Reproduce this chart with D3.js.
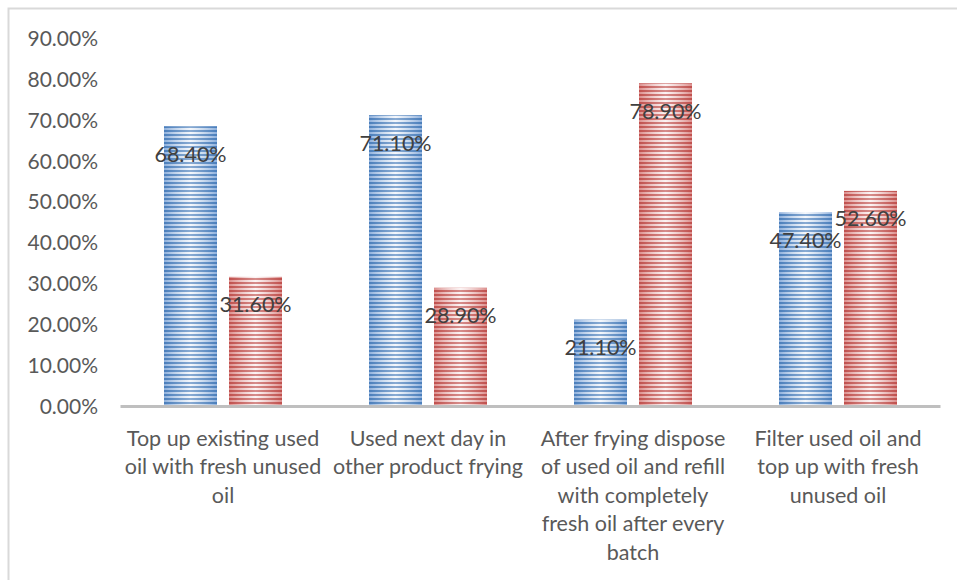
<!DOCTYPE html>
<html>
<head>
<meta charset="utf-8">
<script src="https://cdn.jsdelivr.net/npm/d3@7"></script>
<style>
  html, body { margin: 0; padding: 0; background: #fff; }
  svg { display: block; }
</style>
</head>
<body>
<svg id="chart" width="957" height="580"></svg>
<script>
// Frying-oil practice categories (each label pre-wrapped into lines)
const categories = [
  ["Top up existing used", "oil with fresh unused", "oil"],
  ["Used next day in", "other product frying"],
  ["After frying dispose", "of used oil and refill", "with completely", "fresh oil after every", "batch"],
  ["Filter used oil and", "top up with fresh", "unused oil"]
];
const seriesNames = ["Yes", "No"];
const blueValues = [0.684, 0.711, 0.211, 0.474];
const redValues = [0.316, 0.289, 0.789, 0.526];
const yTicks = [0, 0.1, 0.2, 0.3, 0.4, 0.5, 0.6, 0.7, 0.8, 0.9];

const FONT = "Lato, 'Open Sans', sans-serif";
const svg = d3.select("#chart");
const defs = svg.append("defs");

// outer chart frame (open on right and bottom edges of the canvas)
svg.append("rect")
  .attr("x", 8.5).attr("y", 8.5)
  .attr("width", 1000).attr("height", 1000)
  .attr("fill", "none").attr("stroke", "#d9d9d9").attr("stroke-width", 2);

const catIdx = categories.map((_, i) => i);
const x0 = d3.scaleBand().domain(catIdx).range([120.5, 940.5]);
const groupW = 118;
const x1 = d3.scaleBand().domain(seriesNames)
  .range([(x0.bandwidth() - groupW) / 2, (x0.bandwidth() + groupW) / 2])
  .paddingInner(12 / 65);
const y = d3.scaleLinear().domain([0, 0.9]).range([406, 38]);

// striped fills: soft horizontal gradient beneath, thin horizontal lines above
const palettes = {
  Yes: { line: "#4a7ebb", edge: "#8eb0dc", mid: "#eef3fa" },
  No: { line: "#c0504d", edge: "#dc8e8c", mid: "#faeeee" }
};
Object.entries(palettes).forEach(([name, p]) => {
  const g = defs.append("linearGradient").attr("id", "grad-" + name)
    .attr("x1", "0").attr("x2", "1").attr("y1", "0").attr("y2", "0");
  g.append("stop").attr("offset", "0%").attr("stop-color", p.edge);
  g.append("stop").attr("offset", "50%").attr("stop-color", p.mid);
  g.append("stop").attr("offset", "100%").attr("stop-color", p.edge);

  const pat = defs.append("pattern").attr("id", "stripe-" + name)
    .attr("patternUnits", "userSpaceOnUse")
    .attr("width", 8).attr("height", 4).attr("y", 406);
  pat.append("rect").attr("x", 0).attr("y", 0).attr("width", 8).attr("height", 2)
    .attr("fill", p.line);

  const sheen = defs.append("linearGradient").attr("id", "sheen-" + name)
    .attr("x1", "0").attr("x2", "1").attr("y1", "0").attr("y2", "0");
  sheen.append("stop").attr("offset", "0%").attr("stop-color", "#fff").attr("stop-opacity", 0);
  sheen.append("stop").attr("offset", "50%").attr("stop-color", "#fff").attr("stop-opacity", 0.35);
  sheen.append("stop").attr("offset", "100%").attr("stop-color", "#fff").attr("stop-opacity", 0);
});

// y-axis labels
const yAxis = d3.axisLeft(y).tickValues(yTicks)
  .tickFormat(d => (d * 100).toFixed(2) + "%").tickSize(0).tickPadding(0);
const yg = svg.append("g").attr("transform", "translate(98,0)").call(yAxis);
yg.select(".domain").remove();
yg.selectAll("text")
  .attr("font-family", FONT).attr("font-size", 21).attr("fill", "#595959")
  .attr("dy", "0.35em");

// bars
const rows = catIdx.map(i => ({ i, vals: [
  { s: "Yes", v: blueValues[i] }, { s: "No", v: redValues[i] }
]}));
const groups = svg.append("g").selectAll("g").data(rows).join("g")
  .attr("transform", d => `translate(${x0(d.i)},0)`);
const bars = groups.selectAll("g.bar").data(d => d.vals).join("g").attr("class", "bar");
["grad", "stripe", "sheen"].forEach(layer => {
  bars.append("rect")
    .attr("x", d => x1(d.s)).attr("width", x1.bandwidth())
    .attr("y", d => y(d.v)).attr("height", d => y(0) - y(d.v))
    .attr("fill", d => `url(#${layer}-${d.s})`);
});

// baseline
svg.append("line")
  .attr("x1", x0.range()[0]).attr("x2", x0.range()[1])
  .attr("y1", y(0) + 0.5).attr("y2", y(0) + 0.5)
  .attr("stroke", "#bfbfbf").attr("stroke-width", 3);

// value labels, inside the bar top
bars.append("text")
  .attr("x", d => x1(d.s) + x1.bandwidth() / 2)
  .attr("y", d => y(d.v) + 28)
  .attr("dy", "0.35em")
  .attr("text-anchor", "middle")
  .attr("font-family", FONT).attr("font-size", 21.5).attr("fill", "#404040")
  .text(d => (d.v * 100).toFixed(2) + "%");

// category labels
const catLabels = svg.append("g").selectAll("text").data(rows).join("text")
  .attr("x", d => x0(d.i) + x0.bandwidth() / 2)
  .attr("y", 438)
  .attr("text-anchor", "middle")
  .attr("font-family", FONT).attr("font-size", 21.5).attr("fill", "#595959");
catLabels.selectAll("tspan").data(d => categories[d.i]).join("tspan")
  .attr("x", function() { return d3.select(this.parentNode).attr("x"); })
  .attr("dy", (d, j) => j === 0 ? "0.35em" : "28.5")
  .text(d => d);
</script>
</body>
</html>
